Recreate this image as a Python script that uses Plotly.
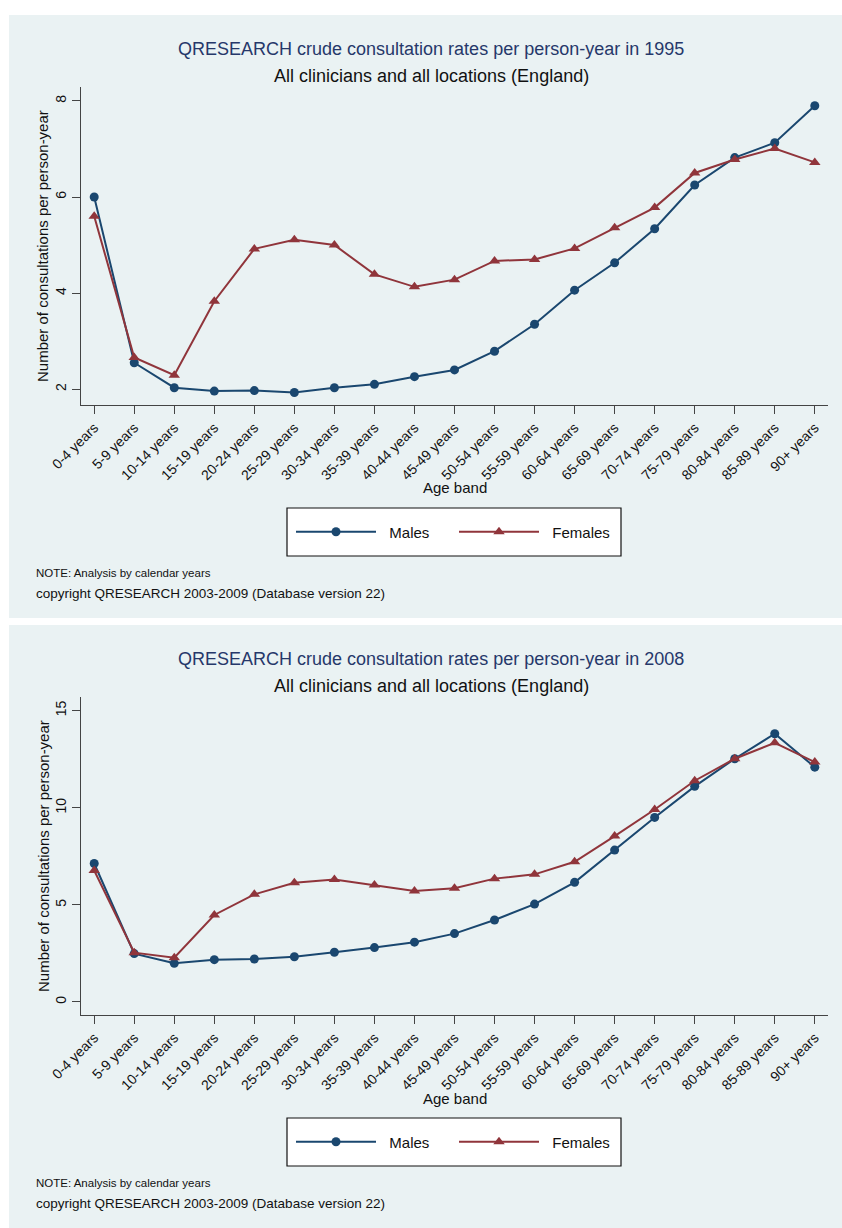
import plotly.graph_objects as go

W, H = 842, 1228

ages = ["0-4 years", "5-9 years", "10-14 years", "15-19 years", "20-24 years",
        "25-29 years", "30-34 years", "35-39 years", "40-44 years", "45-49 years",
        "50-54 years", "55-59 years", "60-64 years", "65-69 years", "70-74 years",
        "75-79 years", "80-84 years", "85-89 years", "90+ years"]

males_1995 = [6.00, 2.55, 2.03, 1.96, 1.97, 1.93, 2.03, 2.10, 2.26, 2.40,
              2.79, 3.35, 4.06, 4.63, 5.34, 6.25, 6.82, 7.13, 7.90]
females_1995 = [5.60, 2.66, 2.29, 3.83, 4.92, 5.11, 5.00, 4.39, 4.13, 4.28,
                4.67, 4.70, 4.93, 5.36, 5.78, 6.50, 6.78, 7.01, 6.72]
males_2008 = [7.13, 2.49, 1.99, 2.18, 2.21, 2.33, 2.56, 2.80, 3.08, 3.52,
              4.22, 5.04, 6.16, 7.82, 9.50, 11.10, 12.52, 13.81, 12.09]
females_2008 = [6.77, 2.54, 2.28, 4.48, 5.54, 6.14, 6.31, 6.02, 5.71, 5.86,
                6.35, 6.57, 7.22, 8.54, 9.91, 11.39, 12.52, 13.34, 12.35]

years = ["1995", "2008"]
yticks_1995 = [2, 4, 6, 8]
yticks_2008 = [0, 5, 10, 15]

NAVY = "#1a476f"
MAROON = "#90353b"
PANEL = "#eaf2f3"
TITLE_C = "#26386a"
FONT = "Liberation Sans, Arial, sans-serif"

def px(x):
    return x / W

def py(y):
    return 1 - y / H

OFF = 610  # vertical offset of second graph
PAD = "\u00a0\u00a0"

fig = go.Figure()

series = [(males_1995, females_1995, "x", "y", "legend"),
          (males_2008, females_2008, "x2", "y2", "legend2")]
for m, f, xa, ya, lg in series:
    fig.add_trace(go.Scatter(x=ages, y=m, name=PAD + "Males", mode="lines+markers",
                             line=dict(color=NAVY, width=2),
                             marker=dict(symbol="circle", size=9, color=NAVY),
                             xaxis=xa, yaxis=ya, legend=lg))
    fig.add_trace(go.Scatter(x=ages, y=f, name=PAD + "Females", mode="lines+markers",
                             line=dict(color=MAROON, width=2),
                             marker=dict(symbol="triangle-up", size=10, color=MAROON),
                             xaxis=xa, yaxis=ya, legend=lg))

xcommon = dict(type="category", range=[-0.33, 18.33], showgrid=False, zeroline=False,
               showline=True, linecolor="#444", linewidth=1, ticks="outside",
               ticklen=8, tickcolor="#444", tickangle=-45, automargin=False,
               tickfont=dict(family=FONT, size=14, color="#111"))
ycommon = dict(showgrid=True, gridcolor=PANEL, gridwidth=2, zeroline=False,
               showline=True, linecolor="#444", linewidth=1, ticks="outside",
               ticklen=8, tickcolor="#444", tickangle=-90, automargin=False,
               tickfont=dict(family=FONT, size=14, color="#111"))

layout = dict(
    template="none",
    width=W, height=H, margin=dict(l=0, r=0, t=0, b=0, pad=0, autoexpand=False),
    paper_bgcolor="white", plot_bgcolor="white",
    showlegend=True,
    xaxis=dict(xcommon, domain=[px(81), px(828)], anchor="y"),
    yaxis=dict(ycommon, domain=[py(405), py(87)], range=[1.67, 8.29],
               tickvals=yticks_1995, anchor="x"),
    xaxis2=dict(xcommon, domain=[px(81), px(828)], anchor="y2"),
    yaxis2=dict(ycommon, domain=[py(405 + OFF), py(87 + OFF)], range=[-0.67, 15.7],
                tickvals=yticks_2008, anchor="x2"),
)

shapes = []
annotations = []
for k, yr in enumerate(years):
    o = k * OFF
    # graph region background
    shapes.append(dict(type="rect", xref="paper", yref="paper", layer="below",
                       x0=px(9), x1=px(842), y0=py(15 + o), y1=py(618 + o),
                       fillcolor=PANEL, line=dict(width=0)))
    # legend box
    shapes.append(dict(type="rect", xref="paper", yref="paper", layer="above",
                       x0=px(287), x1=px(621), y0=py(508 + o), y1=py(556 + o),
                       fillcolor="white", line=dict(color="#111", width=1.2)))
    annotations += [
        dict(text="QRESEARCH crude consultation rates per person-year in " + yr,
             x=px(431), y=py(49 + o), xref="paper", yref="paper", showarrow=False,
             xanchor="center", yanchor="middle",
             font=dict(family=FONT, size=18, color=TITLE_C)),
        dict(text="All clinicians and all locations (England)",
             x=px(431), y=py(76 + o), xref="paper", yref="paper", showarrow=False,
             xanchor="center", yanchor="middle",
             font=dict(family=FONT, size=18, color="#111")),
        dict(text="Number of consultations per person-year", textangle=-90,
             x=px(43), y=py(246 + o), xref="paper", yref="paper", showarrow=False,
             xanchor="center", yanchor="middle",
             font=dict(family=FONT, size=15, color="#111")),
        dict(text="Age band",
             x=px(455), y=py(488 + o), xref="paper", yref="paper", showarrow=False,
             xanchor="center", yanchor="middle",
             font=dict(family=FONT, size=15, color="#111")),
        dict(text="NOTE: Analysis by calendar years",
             x=px(34), y=py(573 + o), xref="paper", yref="paper", showarrow=False,
             xanchor="left", yanchor="middle",
             font=dict(family=FONT, size=11.5, color="#111")),
        dict(text="copyright QRESEARCH 2003-2009 (Database version 22)",
             x=px(34), y=py(593 + o), xref="paper", yref="paper", showarrow=False,
             xanchor="left", yanchor="middle",
             font=dict(family=FONT, size=13.5, color="#111")),
    ]
    lg = dict(orientation="h", x=px(454), y=py(532 + o), xanchor="center",
              yanchor="middle", bgcolor="rgba(0,0,0,0)", borderwidth=0,
              itemwidth=80, entrywidth=68, tracegroupgap=0,
              font=dict(family=FONT, size=15, color="#111"))
    layout["legend" if k == 0 else "legend2"] = lg

layout["shapes"] = shapes
layout["annotations"] = annotations
fig.update_layout(**layout)

fig.write_html("out.html", config={"displayModeBar": False},
               post_script="document.body.style.margin='0px';")
